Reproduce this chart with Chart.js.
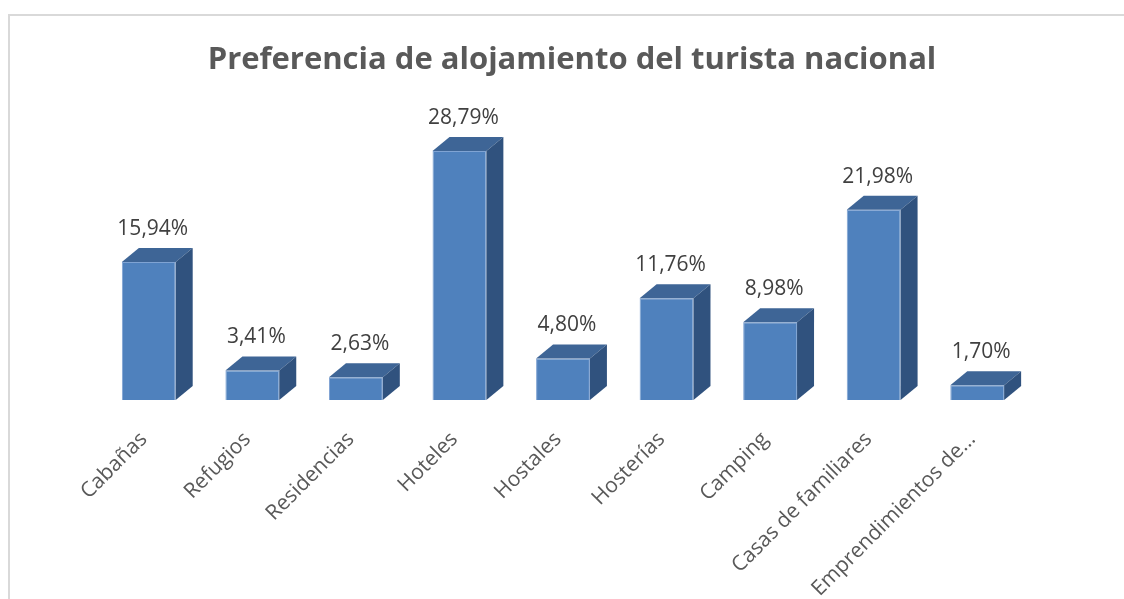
<!DOCTYPE html>
<html>
<head>
<meta charset="utf-8">
<script src="https://cdn.jsdelivr.net/npm/chart.js@4.4.1/dist/chart.umd.min.js"></script>
<style>
  html, body { margin: 0; padding: 0; background: #ffffff; overflow: hidden; }
  #frame { position: absolute; left: 8px; top: 14px; width: 1130px; height: 600px;
           border-left: 2px solid #d9d9d9; border-top: 2px solid #d9d9d9; box-sizing: border-box; }
  #wrap { position: absolute; left: 0; top: 0; width: 1124px; height: 599px; }
</style>
</head>
<body>
<div id="frame"></div>
<div id="wrap"><canvas id="c" width="1124" height="599"></canvas></div>
<script>
const titleText = 'Preferencia de alojamiento del turista nacional';
const categories = ['Cabañas', 'Refugios', 'Residencias', 'Hoteles', 'Hostales', 'Hosterías', 'Camping', 'Casas de familiares', 'Emprendimientos de...'];
const shares = [15.94, 3.41, 2.63, 28.79, 4.80, 11.76, 8.98, 21.98, 1.70];

const FRONT = '#4f81bd';
const TOP = '#3e6596';
const SIDE = '#30527e';
const DX = 17, DY = 14;

const fmt = v => v.toFixed(2).replace('.', ',') + '%';

const bars3d = {
  id: 'bars3d',
  afterDatasetsDraw(chart) {
    const ctx = chart.ctx;
    const meta = chart.getDatasetMeta(0);
    ctx.save();
    meta.data.forEach((bar, i) => {
      const { x, y, base, width } = bar.getProps(['x', 'y', 'base', 'width'], true);
      const l = x - width / 2, r = x + width / 2;
      // top face
      ctx.beginPath();
      ctx.moveTo(l, y);
      ctx.lineTo(r, y);
      ctx.lineTo(r + DX, y - DY);
      ctx.lineTo(l + DX, y - DY);
      ctx.closePath();
      ctx.fillStyle = TOP;
      ctx.fill();
      // side face
      ctx.beginPath();
      ctx.moveTo(r, y);
      ctx.lineTo(r + DX, y - DY);
      ctx.lineTo(r + DX, base - DY);
      ctx.lineTo(r, base);
      ctx.closePath();
      ctx.fillStyle = SIDE;
      ctx.fill();
      // value label
      ctx.fillStyle = '#404040';
      ctx.font = '21px "Open Sans", sans-serif';
      ctx.textAlign = 'center';
      ctx.textBaseline = 'alphabetic';
      ctx.fillText(fmt(shares[i]), x + 4, y - DY - 13);
    });
    ctx.restore();
  }
};

new Chart(document.getElementById('c'), {
  type: 'bar',
  data: {
    labels: categories,
    datasets: [{
      data: shares,
      backgroundColor: FRONT,
      borderColor: '#7fa3d3',
      borderWidth: 1,
      barPercentage: 0.52,
      categoryPercentage: 1.0
    }]
  },
  options: {
    responsive: false,
    animation: false,
    events: [],
    layout: { padding: { left: 77, right: 57, top: 14, bottom: 0 } },
    plugins: {
      legend: { display: false },
      tooltip: { enabled: false },
      title: {
        display: true,
        text: titleText,
        color: '#595959',
        font: { family: '"Open Sans", sans-serif', size: 31, weight: 'bold', lineHeight: 1.2 },
        padding: { top: 27.2, bottom: 18.8 }
      }
    },
    scales: {
      x: {
        grid: { display: false, drawTicks: false },
        border: { display: false },
        ticks: {
          autoSkip: false,
          maxRotation: 45,
          minRotation: 45,
          padding: 27,
          labelOffset: -5,
          color: '#595959',
          font: { family: '"Open Sans", sans-serif', size: 21 }
        },
        afterFit(scale) {
          scale.height = 199;
          scale.paddingLeft = 97;
          scale.paddingRight = 95;
        }
      },
      y: {
        display: false,
        min: 0,
        max: 35
      }
    }
  },
  plugins: [bars3d]
});
</script>
</body>
</html>
